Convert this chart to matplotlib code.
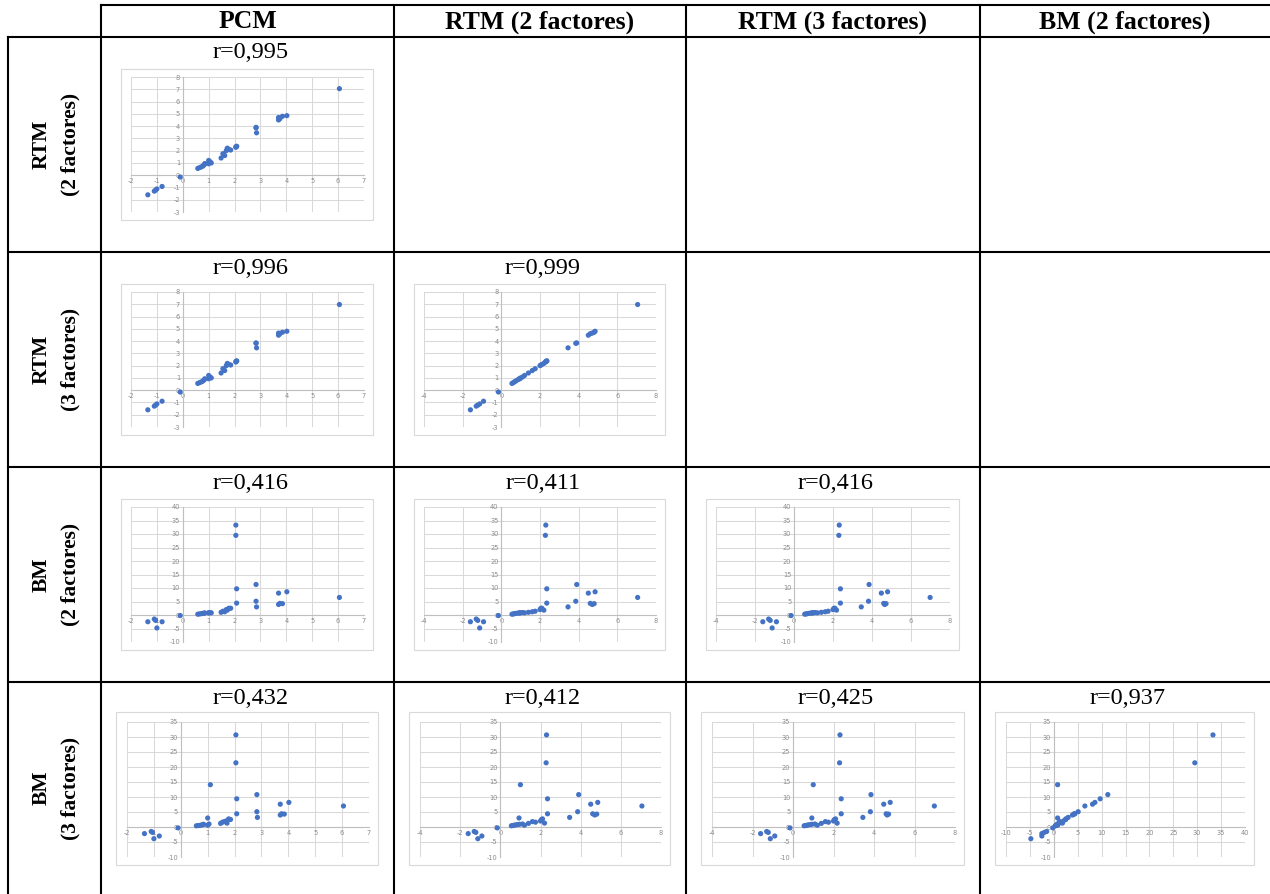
import matplotlib
matplotlib.use("Agg")
import matplotlib.pyplot as plt
from matplotlib.lines import Line2D
from matplotlib.patches import Rectangle
from matplotlib.ticker import MultipleLocator

# Item estimates under each model (one entry per item, same order in every list)
pcm  = [-1.35, -1.10, -1.05, -1.00, -0.80, -0.10, 0.58, 0.65, 0.72, 0.78, 0.83, 0.85,
        1.00, 1.00, 1.05, 1.10, 1.48, 1.55, 1.62, 1.68, 1.72, 1.78, 1.85, 2.05,
        2.05, 2.08, 2.08, 2.83, 2.83, 2.85, 3.70, 3.70, 3.75, 3.85, 4.02, 6.05]
rtm2 = [-1.60, -1.30, -1.22, -1.12, -0.92, -0.15, 0.55, 0.62, 0.68, 0.75, 0.85, 0.95,
        1.20, 0.93, 1.10, 1.00, 1.40, 1.75, 1.60, 2.00, 2.20, 2.10, 2.05, 2.30,
        2.28, 2.35, 2.35, 3.90, 3.85, 3.45, 4.50, 4.70, 4.60, 4.80, 4.85, 7.05]
rtm3 = [-1.60, -1.30, -1.22, -1.12, -0.90, -0.15, 0.55, 0.62, 0.68, 0.75, 0.85, 0.93,
        1.20, 0.93, 1.08, 1.00, 1.40, 1.75, 1.60, 2.00, 2.18, 2.10, 2.05, 2.32,
        2.30, 2.38, 2.38, 3.85, 3.82, 3.45, 4.48, 4.65, 4.60, 4.72, 4.80, 6.98]
bm2  = [-2.5, -1.5, -2.0, -4.8, -2.5, -0.2, 0.3, 0.4, 0.5, 0.6, 0.7, 0.75,
        0.8, 0.8, 0.9, 0.8, 1.0, 1.4, 1.2, 2.0, 1.8, 2.5, 2.5, 33.3,
        29.5, 9.7, 4.4, 11.3, 5.1, 3.0, 8.1, 3.9, 4.3, 4.2, 8.6, 6.5]
bm3  = [-2.2, -1.5, -1.8, -3.9, -3.0, -0.3, 0.4, 0.5, 0.55, 0.7, 0.8, 0.9,
        0.6, 3.0, 1.0, 14.1, 1.2, 1.6, 1.8, 2.0, 1.3, 2.7, 2.5, 30.7,
        21.4, 9.4, 4.4, 10.8, 5.1, 3.2, 7.6, 4.0, 4.4, 4.3, 8.2, 7.0]

estimates = {"PCM": pcm, "RTM2": rtm2, "RTM3": rtm3, "BM2": bm2, "BM3": bm3}

col_models = ["PCM", "RTM2", "RTM3", "BM2"]
row_models = ["RTM2", "RTM3", "BM2", "BM3"]
col_headers = ["PCM", "RTM (2 factores)", "RTM (3 factores)", "BM (2 factores)"]
row_headers = ["RTM\n(2 factores)", "RTM\n(3 factores)", "BM\n(2 factores)", "BM\n(3 factores)"]
r_values = [["0,995"],
            ["0,996", "0,999"],
            ["0,416", "0,411", "0,416"],
            ["0,432", "0,412", "0,425", "0,937"]]

# Axis ranges (min, max, step) per model
x_range = {"PCM": (-2, 7, 1), "RTM2": (-4, 8, 2), "RTM3": (-4, 8, 2), "BM2": (-10, 40, 5)}
y_range = {"RTM2": (-3, 8, 1), "RTM3": (-3, 8, 1), "BM2": (-10, 40, 5), "BM3": (-10, 35, 5)}

plt.rcParams["axes.unicode_minus"] = False

W, H = 1270, 894
fig = plt.figure(figsize=(W / 100, H / 100), dpi=100)
fig.patch.set_facecolor("white")

SERIF = ["Liberation Serif", "DejaVu Serif"]
col_edges = [101, 394, 686, 980, 1270]
row_edges = [37, 252, 467, 682, 894]


def fx(x):
    return x / W


def fy(y):
    return 1 - y / H


def box(l, t, r, b):
    return [fx(l), fy(b), (r - l) / W, (b - t) / H]


# table rules
lw = 1.5
def hline(y, x0, x1):
    fig.add_artist(Line2D([fx(x0), fx(x1)], [fy(y), fy(y)], color="black", lw=lw,
                          transform=fig.transFigure))


def vline(x, y0, y1):
    fig.add_artist(Line2D([fx(x), fx(x)], [fy(y0), fy(y1)], color="black", lw=lw,
                          transform=fig.transFigure))


hline(5, 101, 1270)
for y in row_edges[:-1]:
    hline(y, 8, 1270)
vline(8, 37, 894)
for x in col_edges[:-1]:
    vline(x, 5, 894)

# headers
for j, name in enumerate(col_headers):
    cx = (col_edges[j] + col_edges[j + 1]) / 2
    fig.text(fx(cx), fy(22), name, ha="center", va="center", fontsize=18.5,
             fontweight="bold", family=SERIF)
for i, name in enumerate(row_headers):
    cy = (row_edges[i] + row_edges[i + 1]) / 2
    fig.text(fx(56), fy(cy), name, ha="center", va="center", fontsize=15.5,
             fontweight="bold", family=SERIF, rotation=90, linespacing=1.55)

GRID = "#D9D9D9"
AXIS = "#BFBFBF"
TICK = "#8C8C8C"
DOT = "#4472C4"

for i, ym in enumerate(row_models):
    for j in range(i + 1):
        xm = col_models[j]
        cl, cr = col_edges[j], col_edges[j + 1]
        ct, cb = row_edges[i], row_edges[i + 1]
        fig.text(fx((cl + cr) / 2 + 3), fy(ct + 16), "r=" + r_values[i][j], ha="center",
                 va="center", fontsize=17.5, family=SERIF)
        if i < 3:
            outer = (cl + 20, ct + 32, cr - 21, cb - 32)
            inner = (cl + 30, ct + 40, cr - 30, cb - 40)
        else:
            outer = (cl + 15, ct + 30, cr - 16, cb - 29)
            inner = (cl + 26, ct + 40, cr - 25, cb - 37)
        fig.add_artist(Rectangle((fx(outer[0]), fy(outer[3])),
                                 (outer[2] - outer[0]) / W, (outer[3] - outer[1]) / H,
                                 transform=fig.transFigure, facecolor="white",
                                 edgecolor=GRID, lw=0.8, zorder=-1))
        ax = fig.add_axes(box(*inner))
        ax.set_facecolor("none")
        x0, x1, xs = x_range[xm]
        y0, y1, ys = y_range[ym]
        ax.set_xlim(x0, x1)
        ax.set_ylim(y0, y1)
        ax.xaxis.set_major_locator(MultipleLocator(xs))
        ax.yaxis.set_major_locator(MultipleLocator(ys))
        ax.grid(True, color=GRID, lw=0.75)
        ax.set_axisbelow(True)
        for s in ("top", "right"):
            ax.spines[s].set_visible(False)
        ax.spines["left"].set_position(("data", 0))
        ax.spines["bottom"].set_position(("data", 0))
        for s in ("left", "bottom"):
            ax.spines[s].set_color(AXIS)
            ax.spines[s].set_linewidth(0.8)
        ax.tick_params(length=0, labelsize=4.8, labelcolor=TICK, pad=2)
        ax.scatter(estimates[xm], estimates[ym], s=14, color=DOT, edgecolors="none",
                   zorder=3, clip_on=False)

fig.savefig("out.png", dpi=100, facecolor="white")
